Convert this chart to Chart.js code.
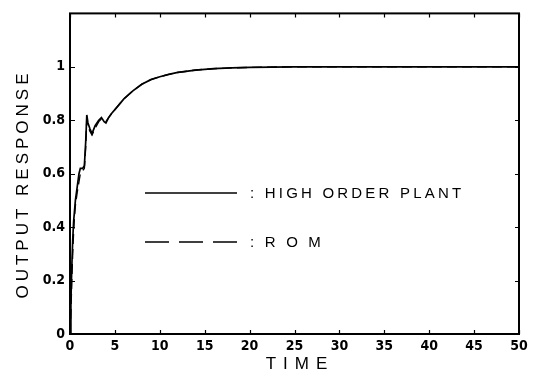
<!DOCTYPE html>
<html>
<head>
<meta charset="utf-8">
<script src="https://cdn.jsdelivr.net/npm/chart.js@4.4.1/dist/chart.umd.min.js"></script>
<style>
  html, body { margin: 0; padding: 0; background: #fff; }
  #wrap { width: 537px; height: 374px; }
</style>
</head>
<body>
<div id="wrap"><canvas id="myChart" width="537" height="374"></canvas></div>
<script>
// data
let time = [0, 0.1, 0.2, 0.3, 0.4, 0.5, 0.6, 0.8, 1.0, 1.15, 1.4, 1.6, 1.75, 1.87, 2.0, 2.2, 2.45, 2.8, 3.2, 3.5, 3.8, 4.0, 4.3, 4.65, 5, 6, 7, 8, 9, 10, 11, 12, 14, 16, 18, 20, 25, 30, 40, 50];
let highOrder = [0, 0.12, 0.25, 0.35, 0.42, 0.46, 0.5, 0.55, 0.6, 0.62, 0.62, 0.63, 0.72, 0.82, 0.79, 0.77, 0.75, 0.78, 0.80, 0.81, 0.795, 0.79, 0.81, 0.826, 0.84, 0.88, 0.91, 0.935, 0.952, 0.963, 0.972, 0.979, 0.988, 0.993, 0.996, 0.998, 1.0, 1.0, 1.0, 1.0];
let rom = [0, 0.08, 0.2, 0.3, 0.38, 0.44, 0.48, 0.53, 0.57, 0.6, 0.61, 0.62, 0.7, 0.8, 0.78, 0.76, 0.745, 0.77, 0.795, 0.805, 0.80, 0.795, 0.81, 0.826, 0.84, 0.88, 0.91, 0.935, 0.952, 0.963, 0.972, 0.979, 0.988, 0.993, 0.996, 0.998, 1.0, 1.0, 1.0, 1.0];
let xTicks = [0, 5, 10, 15, 20, 25, 30, 35, 40, 45, 50];
let yTicks = [0, 0.2, 0.4, 0.6, 0.8, 1];
let seriesNames = ["HIGH ORDER PLANT", "R O M"];

let tickFont = { family: "'Liberation Sans Narrow', 'DejaVu Sans Condensed', 'DejaVu Sans'", size: 14, weight: "bold" };

// frame, inward ticks, axis titles and the in-plot legend
let decorations = {
    id: "decorations",
    afterDraw(chart) {
        let ctx = chart.ctx;
        let a = chart.chartArea;
        let xs = chart.scales.x, ys = chart.scales.y;
        ctx.save();
        ctx.strokeStyle = "#000";
        ctx.lineWidth = 2;
        ctx.strokeRect(a.left, a.top, a.right - a.left, a.bottom - a.top);

        ctx.lineWidth = 1.2;
        ctx.beginPath();
        xTicks.forEach(v => {
            let px = Math.round(xs.getPixelForValue(v)) + 0.5;
            ctx.moveTo(px, a.bottom); ctx.lineTo(px, a.bottom - 4);
            ctx.moveTo(px, a.top); ctx.lineTo(px, a.top + 4);
        });
        yTicks.forEach(v => {
            let py = Math.round(ys.getPixelForValue(v)) + 0.5;
            ctx.moveTo(a.left, py); ctx.lineTo(a.left + 5, py);
            ctx.moveTo(a.right, py); ctx.lineTo(a.right - 4, py);
        });
        ctx.stroke();

        // axis titles
        ctx.fillStyle = "#000";
        ctx.font = "17px 'Liberation Sans'";
        ctx.letterSpacing = "7px";
        ctx.textAlign = "center";
        ctx.textBaseline = "middle";
        ctx.fillText("TIME", 300, 364);
        ctx.save();
        ctx.translate(23, 184);
        ctx.rotate(-Math.PI / 2);
        ctx.letterSpacing = "4px";
        ctx.fillText("OUTPUT RESPONSE", 0, 0);
        ctx.restore();

        // legend
        ctx.lineWidth = 1.6;
        ctx.beginPath();
        ctx.moveTo(145, 193); ctx.lineTo(237, 193);
        ctx.stroke();
        ctx.setLineDash([24, 10]);
        ctx.beginPath();
        ctx.moveTo(145, 242); ctx.lineTo(237, 242);
        ctx.stroke();
        ctx.setLineDash([]);
        ctx.textAlign = "left";
        ctx.font = "15px 'Liberation Sans'";
        ctx.letterSpacing = "3.2px";
        ctx.fillText(": " + seriesNames[0], 250, 194);
        ctx.fillText(": " + seriesNames[1], 250, 243);
        ctx.restore();
    }
};

let myChart = document.getElementById("myChart").getContext("2d");

let chart = new Chart(myChart, {
    type: "line",
    data: {
        datasets: [{
            label: seriesNames[0],
            data: time.map((t, i) => ({ x: t, y: highOrder[i] })),
            borderColor: "#000",
            borderWidth: 1.7,
            pointRadius: 0,
            tension: 0
        }, {
            label: seriesNames[1],
            data: time.map((t, i) => ({ x: t, y: rom[i] })),
            borderColor: "#000",
            borderWidth: 1.4,
            borderDash: [10, 5],
            pointRadius: 0,
            tension: 0
        }]
    },
    options: {
        responsive: false,
        animation: false,
        layout: { padding: { top: 9, right: 18, left: 0, bottom: 0 } },
        plugins: { legend: { display: false }, tooltip: { enabled: false } },
        scales: {
            x: {
                type: "linear",
                min: 0,
                max: 50,
                afterBuildTicks(scale) { scale.ticks = xTicks.map(v => ({ value: v })); },
                afterFit(scale) { scale.height = 40; },
                grid: { display: false, tickLength: 0 },
                border: { display: false },
                ticks: { color: "#000", font: tickFont, padding: 4, maxRotation: 0, callback: v => String(v) }
            },
            y: {
                min: 0,
                max: 1.2,
                afterBuildTicks(scale) { scale.ticks = yTicks.map(v => ({ value: v })); },
                afterFit(scale) { scale.width = 70; },
                grid: { display: false, tickLength: 0 },
                border: { display: false },
                ticks: { color: "#000", font: tickFont, padding: 5, callback: v => String(v) }
            }
        }
    },
    plugins: [decorations]
});
</script>
</body>
</html>
